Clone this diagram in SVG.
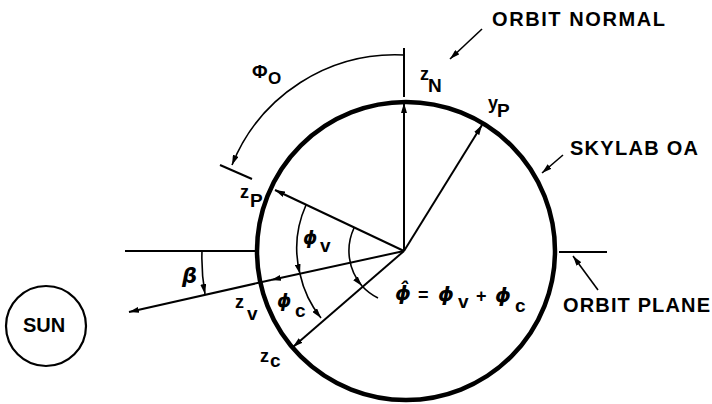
<svg xmlns="http://www.w3.org/2000/svg" width="712" height="404" viewBox="0 0 712 404">
<style>
.cap{font-family:"Liberation Sans",Arial,sans-serif;font-weight:bold;font-size:20px;fill:#000}
.sym{font-family:"Liberation Sans",Arial,sans-serif;font-weight:bold;font-size:18px;fill:#000}
.sub{font-family:"Liberation Sans",Arial,sans-serif;font-weight:bold;font-size:19px;fill:#000}
.gr{font-family:"DejaVu Sans",sans-serif;font-weight:bold;font-style:italic;font-size:18px;fill:#000}
.ln{fill:none;stroke:#000;stroke-width:2}
.thin{fill:none;stroke:#000;stroke-width:1.6}
.ar{marker-end:url(#ah)}
</style>
<defs>
<marker id="ah" viewBox="0 0 10 6" refX="10" refY="3" markerWidth="10" markerHeight="6" markerUnits="userSpaceOnUse" orient="auto">
<path d="M0,0 L10,3 L0,6 z" fill="#000"/>
</marker>
</defs>
<rect width="712" height="404" fill="#fff"/>
<g id="skylab">
<circle cx="406" cy="251" r="149" fill="none" stroke="#000" stroke-width="4.5"/>
</g>
<g id="sun">
<circle cx="46" cy="326" r="40" fill="none" stroke="#000" stroke-width="2.2"/>
<text class="cap" x="44" y="332" text-anchor="middle">SUN</text>
</g>
<g id="connectors">
<line class="ln" x1="125" y1="251" x2="256" y2="251"/>
<line class="ln" x1="559" y1="252" x2="607" y2="252"/>
<line class="ln ar" x1="404" y1="251" x2="404" y2="103"/>
<line class="ln ar" x1="404" y1="251" x2="482" y2="125"/>
<line class="ln ar" x1="404" y1="251" x2="275" y2="190"/>
<line class="ln ar" x1="404" y1="251" x2="271" y2="280"/>
<line class="ln ar" x1="271" y1="280" x2="129" y2="312"/>
<line class="ln ar" x1="404" y1="251" x2="293" y2="347"/>
<line class="ln" x1="404" y1="48" x2="404" y2="97"/>
<line class="ln" x1="220" y1="165" x2="252" y2="179"/>
<path class="thin ar" d="M404,55 A176,176 0 0 0 232,165"/>
<path class="thin ar" d="M202,251 A202,202 0 0 0 205,294"/>
<path class="thin ar" d="M306,205 A106,106 0 0 0 300,274"/>
<path class="thin ar" d="M300,274 A106,106 0 0 0 321,318"/>
<path class="thin ar" d="M354,228 A54,54 0 0 0 362,286"/>
<path class="thin" d="M362,286 A54,54 0 0 0 378,298"/>
<line class="thin ar" x1="482" y1="29" x2="450" y2="59"/>
<line class="thin ar" x1="563" y1="155" x2="542" y2="173"/>
<line class="thin ar" x1="598" y1="290" x2="573" y2="256"/>
</g>
<g id="labels">
<text id="orbit-normal" class="cap" x="492" y="26" textLength="173" lengthAdjust="spacing">ORBIT NORMAL</text>
<text id="skylab-oa" class="cap" x="570" y="155" textLength="128" lengthAdjust="spacing">SKYLAB OA</text>
<text id="orbit-plane" class="cap" x="563" y="312" textLength="147" lengthAdjust="spacing">ORBIT PLANE</text>
<text class="sym" x="252" y="78" style="font-size:19px">Φ<tspan x="268" y="84" style="font-size:17px">O</tspan></text>
<text class="sym" x="420" y="80">z<tspan class="sub" x="428" y="92">N</tspan></text>
<text class="sym" x="488" y="109">y<tspan class="sub" x="497" y="117">P</tspan></text>
<text class="sym" x="240" y="198">z<tspan class="sub" x="250" y="207">P</tspan></text>
<text class="sym" x="235" y="308">z<tspan class="sub" x="247" y="320">v</tspan></text>
<text class="sym" x="260" y="362">z<tspan class="sub" x="270" y="367">c</tspan></text>
<text class="gr" x="182" y="283" style="font-size:21px">β</text>
<text class="gr" x="303" y="244">ϕ<tspan class="sub" x="320" y="252" style="font-style:normal">v</tspan></text>
<text class="gr" x="277" y="307">ϕ<tspan class="sub" x="295" y="317" style="font-style:normal">c</tspan></text>
<g id="equation">
<text class="gr" x="395" y="300" style="font-size:20px">ϕ̂<tspan class="sym" x="418" y="301" style="font-style:normal">=</tspan><tspan x="438" y="301">ϕ</tspan><tspan class="sub" x="458" y="308" style="font-style:normal">v</tspan><tspan class="sym" x="476" y="302" style="font-style:normal">+</tspan><tspan x="495" y="302">ϕ</tspan><tspan class="sub" x="515" y="312" style="font-style:normal">c</tspan></text>
</g>
</g>
</svg>
